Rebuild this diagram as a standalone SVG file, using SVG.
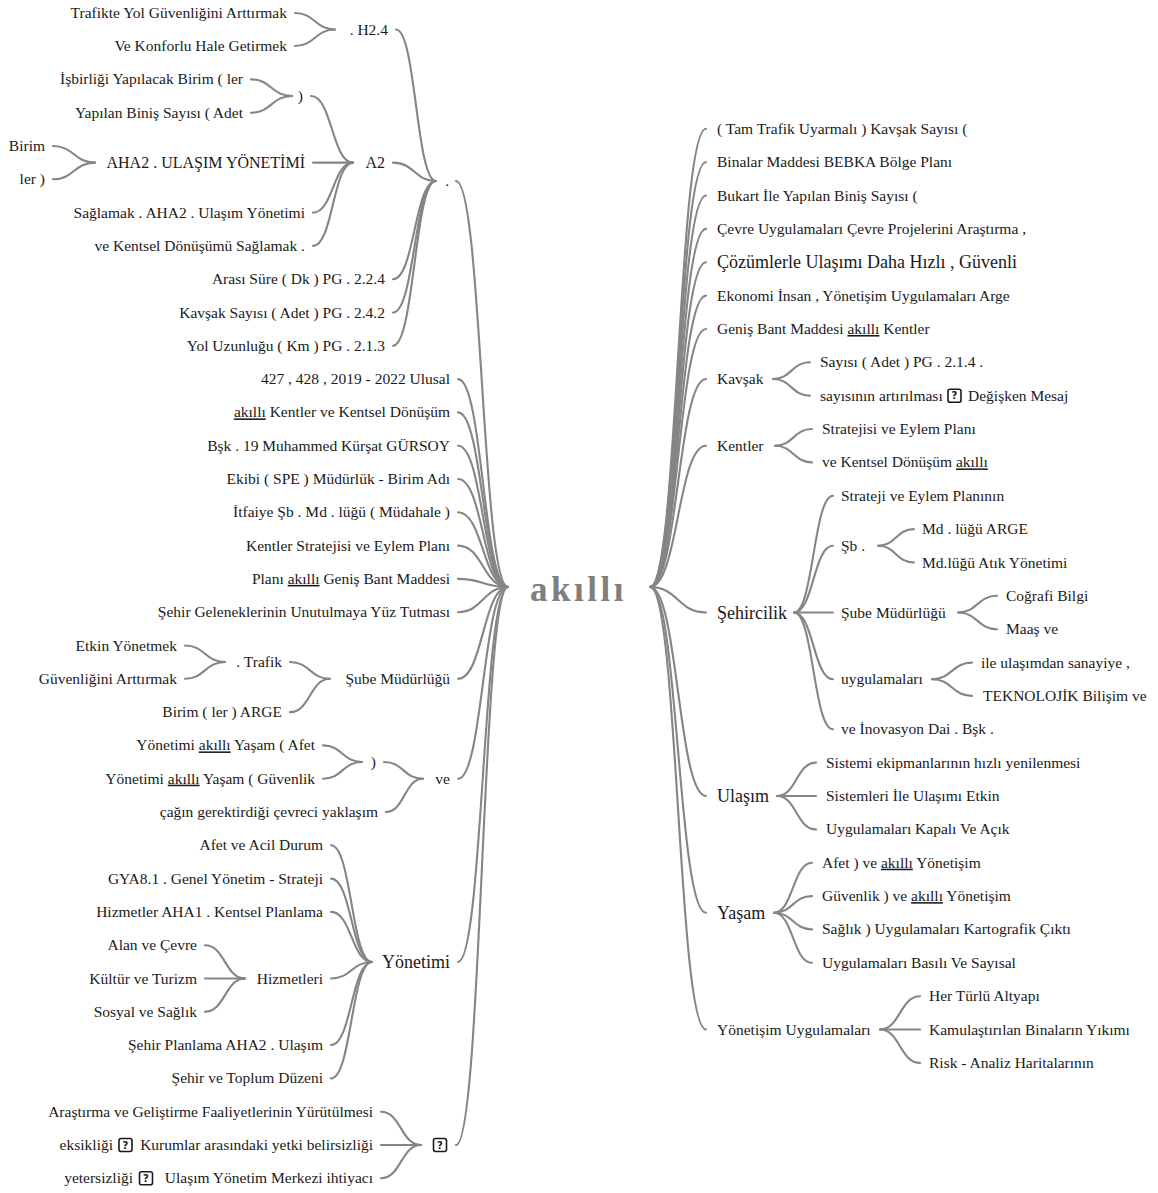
<svg xmlns="http://www.w3.org/2000/svg" xmlns:xlink="http://www.w3.org/1999/xlink" width="1158" height="1193" viewBox="0 0 1158 1193">
<style>
  text { font-family: "Liberation Serif", "Times New Roman", serif; font-size: 15.5px; fill: #1a1a1a; }
  .e { text-anchor: end; }
  .m { font-size: 16px; }
  .b { font-size: 18px; }
  .u { text-decoration: underline; }
  .root { font-size: 35px; font-weight: bold; fill: #7f7f7f; letter-spacing: 3.5px; }
  .c path { fill: none; stroke: #858585; stroke-width: 2.1; stroke-linecap: round; }
  .q rect { fill: none; stroke: #1a1a1a; stroke-width: 1.6; }
  .q text { font-family: "DejaVu Sans", sans-serif; font-size: 10px; font-weight: bold; text-anchor: middle; }
</style>
<defs>
  <!-- placeholder glyph box for characters the source font could not show -->
  <g id="qbox" class="q">
    <rect x="0" y="-6.5" width="13" height="13" rx="2"/>
    <text x="6.5" y="3.6">?</text>
  </g>
</defs>
<rect width="1158" height="1193" fill="#fff"/>

<g id="connectors" class="c">
  <!-- . H2.4 -->
  <path d="M295,13 C315,13 315,29.5 335,29.5"/>
  <path d="M295,46 C315,46 315,29.5 335,29.5"/>
  <!-- ) -->
  <path d="M251,79.4 C271.5,79.4 271.5,96 292,96"/>
  <path d="M251,112.7 C271.5,112.7 271.5,96 292,96"/>
  <!-- AHA2 -->
  <path d="M53,146 C74,146 74,162.6 95,162.6"/>
  <path d="M53,179.3 C74,179.3 74,162.6 95,162.6"/>
  <!-- A2 -->
  <path d="M311,96 C332,96 332,162.6 353,162.6"/>
  <path d="M313,162.6 C333,162.6 333,162.6 353,162.6"/>
  <path d="M313,212.6 C333,212.6 333,162.6 353,162.6"/>
  <path d="M313,245.9 C333,245.9 333,162.6 353,162.6"/>
  <!-- . -->
  <path d="M396,29.5 C416,29.5 416,181 436,181"/>
  <path d="M393,162.6 C414.5,162.6 414.5,181 436,181"/>
  <path d="M393,279.2 C414.5,279.2 414.5,181 436,181"/>
  <path d="M393,312.5 C414.5,312.5 414.5,181 436,181"/>
  <path d="M393,345.8 C414.5,345.8 414.5,181 436,181"/>
  <!-- root, left side -->
  <path d="M456,181 C482,181 482,587 508,587"/>
  <path d="M458,379.1 C483,379.1 483,587 508,587"/>
  <path d="M458,412.4 C483,412.4 483,587 508,587"/>
  <path d="M458,445.7 C483,445.7 483,587 508,587"/>
  <path d="M458,479 C483,479 483,587 508,587"/>
  <path d="M458,512.3 C483,512.3 483,587 508,587"/>
  <path d="M458,545.6 C483,545.6 483,587 508,587"/>
  <path d="M458,578.9 C483,578.9 483,587 508,587"/>
  <path d="M458,612.2 C483,612.2 483,587 508,587"/>
  <path d="M458,678.8 C483,678.8 483,587 508,587"/>
  <path d="M458,778.7 C483,778.7 483,587 508,587"/>
  <path d="M458,962 C483,962 483,587 508,587"/>
  <path d="M456,1145 C482,1145 482,587 508,587"/>
  <!-- . Trafik -->
  <path d="M185,645.5 C205,645.5 205,662 225,662"/>
  <path d="M185,678.8 C205,678.8 205,662 225,662"/>
  <!-- Şube Müdürlüğü -->
  <path d="M290,662 C310,662 310,678.8 330,678.8"/>
  <path d="M290,712.1 C310,712.1 310,678.8 330,678.8"/>
  <!-- ) -->
  <path d="M323,745.4 C342.5,745.4 342.5,762 362,762"/>
  <path d="M323,778.7 C342.5,778.7 342.5,762 362,762"/>
  <!-- ve -->
  <path d="M384,762 C403.5,762 403.5,778.7 423,778.7"/>
  <path d="M386,812 C404.5,812 404.5,778.7 423,778.7"/>
  <!-- Hizmetleri -->
  <path d="M205,945.2 C225,945.2 225,978.5 245,978.5"/>
  <path d="M205,978.5 C225,978.5 225,978.5 245,978.5"/>
  <path d="M205,1011.8 C225,1011.8 225,978.5 245,978.5"/>
  <!-- Yönetimi -->
  <path d="M331,845.3 C351.5,845.3 351.5,962 372,962"/>
  <path d="M331,878.6 C351.5,878.6 351.5,962 372,962"/>
  <path d="M331,911.9 C351.5,911.9 351.5,962 372,962"/>
  <path d="M331,978.5 C351.5,978.5 351.5,962 372,962"/>
  <path d="M331,1045.1 C351.5,1045.1 351.5,962 372,962"/>
  <path d="M331,1078.4 C351.5,1078.4 351.5,962 372,962"/>
  <!-- ? -->
  <path d="M381,1111.7 C401,1111.7 401,1145 421,1145"/>
  <path d="M381,1145 C401,1145 401,1145 421,1145"/>
  <path d="M381,1178.3 C401,1178.3 401,1145 421,1145"/>

  <!-- root, right side -->
  <path d="M650,587 C678,587 678,128.8 706,128.8"/>
  <path d="M650,587 C678,587 678,162.2 706,162.2"/>
  <path d="M650,587 C678,587 678,195.5 706,195.5"/>
  <path d="M650,587 C678,587 678,228.9 706,228.9"/>
  <path d="M650,587 C678,587 678,262.2 706,262.2"/>
  <path d="M650,587 C678,587 678,295.6 706,295.6"/>
  <path d="M650,587 C678,587 678,329 706,329"/>
  <path d="M650,587 C678,587 678,379 706,379"/>
  <path d="M650,587 C678,587 678,445.7 706,445.7"/>
  <path d="M650,587 C678,587 678,612.5 706,612.5"/>
  <path d="M650,587 C678,587 678,796 706,796"/>
  <path d="M650,587 C678,587 678,912.7 706,912.7"/>
  <path d="M650,587 C678,587 678,1029.5 706,1029.5"/>
  <!-- Kavşak -->
  <path d="M773,379 C791.5,379 791.5,362.3 810,362.3"/>
  <path d="M773,379 C791.5,379 791.5,395.7 810,395.7"/>
  <!-- Kentler -->
  <path d="M775,445.7 C793.5,445.7 793.5,429 812,429"/>
  <path d="M775,445.7 C793.5,445.7 793.5,462.4 812,462.4"/>
  <!-- Şehircilik -->
  <path d="M794,612.5 C813.5,612.5 813.5,495.8 833,495.8"/>
  <path d="M794,612.5 C813.5,612.5 813.5,545.8 833,545.8"/>
  <path d="M794,612.5 C813.5,612.5 813.5,612.5 833,612.5"/>
  <path d="M794,612.5 C813.5,612.5 813.5,679.2 833,679.2"/>
  <path d="M794,612.5 C813.5,612.5 813.5,729.3 833,729.3"/>
  <!-- Şb . -->
  <path d="M878,545.8 C896,545.8 896,529.1 914,529.1"/>
  <path d="M878,545.8 C896,545.8 896,562.5 914,562.5"/>
  <!-- Şube Müdürlüğü -->
  <path d="M958,612.5 C977.5,612.5 977.5,595.8 997,595.8"/>
  <path d="M958,612.5 C977.5,612.5 977.5,629.2 997,629.2"/>
  <!-- uygulamaları -->
  <path d="M932,679.2 C952,679.2 952,662.6 972,662.6"/>
  <path d="M932,679.2 C952,679.2 952,695.9 972,695.9"/>
  <!-- Ulaşım -->
  <path d="M777,796 C796.5,796 796.5,762.6 816,762.6"/>
  <path d="M777,796 C796.5,796 796.5,796 816,796"/>
  <path d="M777,796 C796.5,796 796.5,829.4 816,829.4"/>
  <!-- Yaşam -->
  <path d="M774,912.7 C793,912.7 793,862.7 812,862.7"/>
  <path d="M774,912.7 C793,912.7 793,896.1 812,896.1"/>
  <path d="M774,912.7 C793,912.7 793,929.4 812,929.4"/>
  <path d="M774,912.7 C793,912.7 793,962.8 812,962.8"/>
  <!-- Yönetişim Uygulamaları -->
  <path d="M880,1029.5 C900,1029.5 900,996.2 920,996.2"/>
  <path d="M880,1029.5 C900,1029.5 900,1029.5 920,1029.5"/>
  <path d="M880,1029.5 C900,1029.5 900,1062.9 920,1062.9"/>
</g>

<!-- central topic -->
<g id="n-root"><text class="root" x="530" y="601">akıllı</text></g>

<!-- left branch: . -->
<g id="n-dot"><text class="e" x="449" y="186">.</text></g>
<g id="n-h24"><text class="e" x="388" y="34.5">. H2.4</text></g>
<g id="n-trafikte"><text class="e" x="287" y="18">Trafikte Yol Güvenliğini Arttırmak</text></g>
<g id="n-konforlu"><text class="e" x="287" y="51">Ve Konforlu Hale Getirmek</text></g>
<g id="n-a2"><text class="e m" x="385" y="168">A2</text></g>
<g id="n-paren1"><text class="e" x="303" y="101">)</text></g>
<g id="n-isbirligi"><text class="e" x="243" y="84.4">İşbirliği Yapılacak Birim ( ler</text></g>
<g id="n-yapilan"><text class="e" x="243" y="117.7">Yapılan Biniş Sayısı ( Adet</text></g>
<g id="n-aha2"><text class="e m" x="305" y="168">AHA2 . ULAŞIM YÖNETİMİ</text></g>
<g id="n-birim"><text class="e" x="45" y="151">Birim</text></g>
<g id="n-ler"><text class="e" x="45" y="184.3">ler )</text></g>
<g id="n-saglamak"><text class="e" x="305" y="217.6">Sağlamak . AHA2 . Ulaşım Yönetimi</text></g>
<g id="n-vekentsel"><text class="e" x="305" y="250.9">ve Kentsel Dönüşümü Sağlamak .</text></g>
<g id="n-arasi"><text class="e" x="385" y="284.2">Arası Süre ( Dk ) PG . 2.2.4</text></g>
<g id="n-kavsaksayisi"><text class="e" x="385" y="317.5">Kavşak Sayısı ( Adet ) PG . 2.4.2</text></g>
<g id="n-yol"><text class="e" x="385" y="350.8">Yol Uzunluğu ( Km ) PG . 2.1.3</text></g>

<!-- left leaves of the root -->
<g id="n-427"><text class="e" x="450" y="384.1">427 , 428 , 2019 - 2022 Ulusal</text></g>
<g id="n-akillikentler"><text class="e" x="450" y="417.4"><tspan class="u">akıllı</tspan> Kentler ve Kentsel Dönüşüm</text></g>
<g id="n-bsk"><text class="e" x="450" y="450.7">Bşk . 19 Muhammed Kürşat GÜRSOY</text></g>
<g id="n-ekibi"><text class="e" x="450" y="484">Ekibi ( SPE ) Müdürlük - Birim Adı</text></g>
<g id="n-itfaiye"><text class="e" x="450" y="517.3">İtfaiye Şb . Md . lüğü ( Müdahale )</text></g>
<g id="n-kentlerstr"><text class="e" x="450" y="550.6">Kentler Stratejisi ve Eylem Planı</text></g>
<g id="n-plani"><text class="e" x="450" y="583.9">Planı <tspan class="u">akıllı</tspan> Geniş Bant Maddesi</text></g>
<g id="n-gelenek"><text class="e" x="450" y="617.2">Şehir Geleneklerinin Unutulmaya Yüz Tutması</text></g>

<!-- left branch: Şube Müdürlüğü -->
<g id="n-sube"><text class="e" x="450" y="683.8">Şube Müdürlüğü</text></g>
<g id="n-trafik"><text class="e" x="282" y="667">. Trafik</text></g>
<g id="n-etkin"><text class="e" x="177" y="650.5">Etkin Yönetmek</text></g>
<g id="n-guvenligini"><text class="e" x="177" y="683.8">Güvenliğini Arttırmak</text></g>
<g id="n-argel"><text class="e" x="282" y="717.1">Birim ( ler ) ARGE</text></g>

<!-- left branch: ve -->
<g id="n-ve"><text class="e" x="450" y="783.7">ve</text></g>
<g id="n-paren2"><text class="e" x="376" y="767">)</text></g>
<g id="n-yasamafet"><text class="e" x="315" y="750.4">Yönetimi <tspan class="u">akıllı</tspan> Yaşam ( Afet</text></g>
<g id="n-yasamguv"><text class="e" x="315" y="783.7">Yönetimi <tspan class="u">akıllı</tspan> Yaşam ( Güvenlik</text></g>
<g id="n-cagin"><text class="e" x="378" y="817">çağın gerektirdiği çevreci yaklaşım</text></g>

<!-- left branch: Yönetimi -->
<g id="n-yonetimi"><text class="e b" x="450" y="968">Yönetimi</text></g>
<g id="n-afetacil"><text class="e" x="323" y="850.3">Afet ve Acil Durum</text></g>
<g id="n-gya"><text class="e" x="323" y="883.6">GYA8.1 . Genel Yönetim - Strateji</text></g>
<g id="n-aha1"><text class="e" x="323" y="916.9">Hizmetler AHA1 . Kentsel Planlama</text></g>
<g id="n-hizmetleri"><text class="e" x="323" y="983.5">Hizmetleri</text></g>
<g id="n-alan"><text class="e" x="197" y="950.2">Alan ve Çevre</text></g>
<g id="n-kultur"><text class="e" x="197" y="983.5">Kültür ve Turizm</text></g>
<g id="n-sosyal"><text class="e" x="197" y="1016.8">Sosyal ve Sağlık</text></g>
<g id="n-sehirplan"><text class="e" x="323" y="1050.1">Şehir Planlama AHA2 . Ulaşım</text></g>
<g id="n-toplum"><text class="e" x="323" y="1083.4">Şehir ve Toplum Düzeni</text></g>

<!-- left branch: ? -->
<g id="n-q"><use href="#qbox" x="433.5" y="1145"/></g>
<g id="n-arastirma"><text class="e" x="373" y="1116.7">Araştırma ve Geliştirme Faaliyetlerinin Yürütülmesi</text></g>
<g id="n-eksikligi">
  <text class="e" x="113" y="1150">eksikliği</text>
  <use href="#qbox" x="119" y="1145"/>
  <text class="e" x="373" y="1150">Kurumlar arasındaki yetki belirsizliği</text>
</g>
<g id="n-yetersizligi">
  <text class="e" x="133" y="1183.3">yetersizliği</text>
  <use href="#qbox" x="139.5" y="1178.3"/>
  <text class="e" x="373" y="1183.3">Ulaşım Yönetim Merkezi ihtiyacı</text>
</g>

<!-- right leaves of the root -->
<g id="n-tam"><text x="717" y="133.8">( Tam Trafik Uyarmalı ) Kavşak Sayısı (</text></g>
<g id="n-binalar"><text x="717" y="167.2">Binalar Maddesi BEBKA Bölge Planı</text></g>
<g id="n-bukart"><text x="717" y="200.5">Bukart İle Yapılan Biniş Sayısı (</text></g>
<g id="n-cevre"><text x="717" y="233.9">Çevre Uygulamaları Çevre Projelerini Araştırma ,</text></g>
<g id="n-cozum"><text class="b" x="717" y="268">Çözümlerle Ulaşımı Daha Hızlı , Güvenli</text></g>
<g id="n-ekonomi"><text x="717" y="300.6">Ekonomi İnsan , Yönetişim Uygulamaları Arge</text></g>
<g id="n-genis"><text x="717" y="334">Geniş Bant Maddesi <tspan class="u">akıllı</tspan> Kentler</text></g>

<!-- right branch: Kavşak -->
<g id="n-kavsak"><text x="717" y="384">Kavşak</text></g>
<g id="n-sayisi"><text x="820" y="367.3">Sayısı ( Adet ) PG . 2.1.4 .</text></g>
<g id="n-sayisinin">
  <text x="820" y="400.7">sayısının artırılması</text>
  <use href="#qbox" x="948" y="395.7"/>
  <text x="968" y="400.7">Değişken Mesaj</text>
</g>

<!-- right branch: Kentler -->
<g id="n-kentler"><text x="717" y="451">Kentler</text></g>
<g id="n-stratejisi"><text x="822" y="434">Stratejisi ve Eylem Planı</text></g>
<g id="n-vekentselakilli"><text x="822" y="467.4">ve Kentsel Dönüşüm <tspan class="u">akıllı</tspan></text></g>

<!-- right branch: Şehircilik -->
<g id="n-sehircilik"><text class="b" x="717" y="618.5">Şehircilik</text></g>
<g id="n-stratejieylem"><text x="841" y="500.8">Strateji ve Eylem Planının</text></g>
<g id="n-sb"><text x="841" y="550.8">Şb .</text></g>
<g id="n-mdarge"><text x="922" y="534.1">Md . lüğü ARGE</text></g>
<g id="n-mdatik"><text x="922" y="567.5">Md.lüğü Atık Yönetimi</text></g>
<g id="n-subemud"><text x="841" y="617.5">Şube Müdürlüğü</text></g>
<g id="n-cografi"><text x="1006" y="600.8">Coğrafi Bilgi</text></g>
<g id="n-maas"><text x="1006" y="634.2">Maaş ve</text></g>
<g id="n-uygulamalari"><text x="841" y="684.2">uygulamaları</text></g>
<g id="n-ileulasim"><text x="981" y="667.6">ile ulaşımdan sanayiye ,</text></g>
<g id="n-teknolojik"><text x="983" y="700.9">TEKNOLOJİK Bilişim ve</text></g>
<g id="n-inovasyon"><text x="841" y="734.3">ve İnovasyon Dai . Bşk .</text></g>

<!-- right branch: Ulaşım -->
<g id="n-ulasim"><text class="b" x="717" y="802">Ulaşım</text></g>
<g id="n-sistemi"><text x="826" y="767.6">Sistemi ekipmanlarının hızlı yenilenmesi</text></g>
<g id="n-sistemleri"><text x="826" y="801">Sistemleri İle Ulaşımı Etkin</text></g>
<g id="n-kapali"><text x="826" y="834.4">Uygulamaları Kapalı Ve Açık</text></g>

<!-- right branch: Yaşam -->
<g id="n-yasam"><text class="b" x="717" y="918.7">Yaşam</text></g>
<g id="n-afetve"><text x="822" y="867.7">Afet ) ve <tspan class="u">akıllı</tspan> Yönetişim</text></g>
<g id="n-guvenlikve"><text x="822" y="901.1">Güvenlik ) ve <tspan class="u">akıllı</tspan> Yönetişim</text></g>
<g id="n-saglik"><text x="822" y="934.4">Sağlık ) Uygulamaları Kartografik Çıktı</text></g>
<g id="n-basili"><text x="822" y="967.8">Uygulamaları Basılı Ve Sayısal</text></g>

<!-- right branch: Yönetişim Uygulamaları -->
<g id="n-yonetisim"><text x="717" y="1034.5">Yönetişim Uygulamaları</text></g>
<g id="n-altyapi"><text x="929" y="1001.2">Her Türlü Altyapı</text></g>
<g id="n-kamulastirilan"><text x="929" y="1034.5">Kamulaştırılan Binaların Yıkımı</text></g>
<g id="n-risk"><text x="929" y="1067.9">Risk - Analiz Haritalarının</text></g>
</svg>
